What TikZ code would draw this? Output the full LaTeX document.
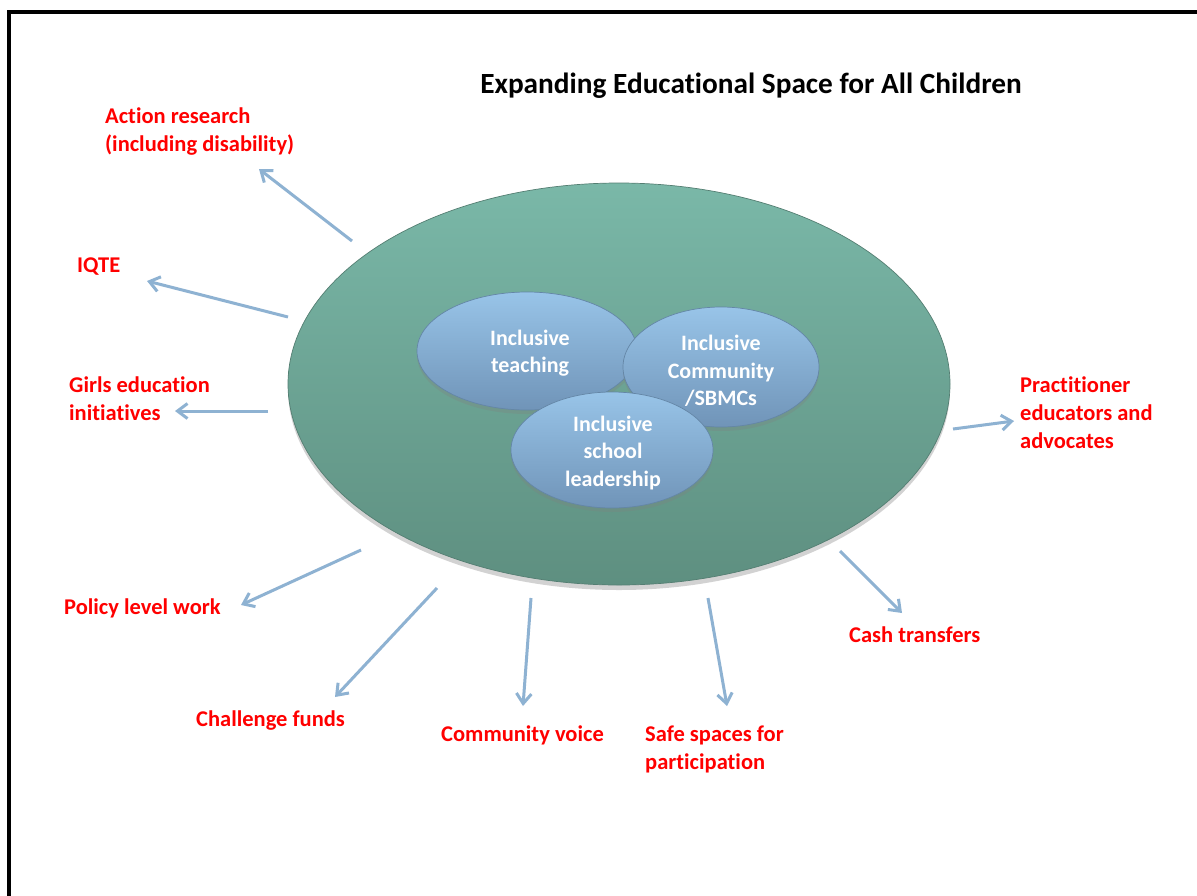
\documentclass[tikz,border=0pt]{standalone}
\usepackage{fontspec}
\setmainfont{Carlito}[Ligatures=NoCommon]
\usetikzlibrary{shapes.geometric,arrows.meta,shadows}
\definecolor{tealtop}{RGB}{122,184,168}
\definecolor{tealbot}{RGB}{94,143,128}
\definecolor{tealedge}{RGB}{84,126,114}
\definecolor{bluetop}{RGB}{152,196,232}
\definecolor{bluebot}{RGB}{112,148,184}
\definecolor{blueedge}{RGB}{100,134,166}
\definecolor{arrowblue}{RGB}{142,178,210}
\definecolor{labelred}{RGB}{255,0,0}
\tikzset{
  bigoval/.style={ellipse, draw=tealedge, line width=0.7pt, top color=tealtop, bottom color=tealbot,
    inner sep=0pt, drop shadow={opacity=0.35, shadow xshift=0pt, shadow yshift=-5pt}},
  smalloval/.style={ellipse, draw=blueedge, line width=0.7pt, top color=bluetop, bottom color=bluebot,
    inner sep=0pt, drop shadow={opacity=0.3, shadow xshift=0pt, shadow yshift=-4pt}},
  ovaltext/.style={text=white, font=\bfseries\fontsize{22}{27.5}\selectfont, align=center, inner sep=0pt},
  lbl/.style={text=labelred, font=\bfseries\fontsize{22.5}{28}\selectfont, align=left, anchor=west, inner sep=0pt},
  link/.style={draw=arrowblue, line width=3pt, -{Straight Barb[length=10pt,width=15pt]}},
}
\begin{document}
\begin{tikzpicture}[x=1pt,y=-1pt]
\useasboundingbox (0,0) rectangle (1197,895);
\fill[white] (0,0) rectangle (1197,895);
% frame
\draw[line width=4.5pt] (9,900) -- (9,12) -- (1202,12);
% title
\node[font=\bfseries\fontsize{29.3}{34}\selectfont, inner sep=0pt] (title) at (751,86) {Expanding Educational Space for All Children};
% big ellipse
\node[bigoval, minimum width=662pt, minimum height=402pt] (big) at (619,384) {};
% inner ellipses
\node[smalloval, minimum width=220pt, minimum height=118pt] (teach) at (527,351) {};
\node[smalloval, minimum width=196pt, minimum height=120pt] (comm) at (721,367) {};
\node[smalloval, minimum width=202pt, minimum height=116pt] (lead) at (612,450) {};
\node[ovaltext] (teacht) at (530,353) {Inclusive\\teaching};
\node[ovaltext] (commt) at (721,371) {Inclusive\\Community\\/SBMCs};
\node[ovaltext] (leadt) at (613,453) {Inclusive\\school\\leadership};
% labels
\node[lbl] (l1) at (105,132) {Action research\\(including disability)};
\node[lbl] (l2) at (77,267) {IQTE};
\node[lbl] (l3) at (69,399) {Girls education\\initiatives};
\node[lbl] (l4) at (64,608) {Policy level work};
\node[lbl] (l5) at (196,721) {Challenge funds};
\node[lbl] (l6) at (441,735) {Community voice};
\node[lbl] (l7) at (645,749) {Safe spaces for\\participation};
\node[lbl] (l8) at (849,635) {Cash transfers};
\node[lbl] (l9) at (1020,413) {Practitioner\\educators and\\advocates};
% arrow endpoints
\coordinate (s1) at (352,241); \coordinate (t1) at (259,169);
\coordinate (s2) at (288,317); \coordinate (t2) at (147,281);
\coordinate (s3) at (268,411); \coordinate (t3) at (175,411);
\coordinate (s4) at (361,550); \coordinate (t4) at (241,605);
\coordinate (s5) at (437,588); \coordinate (t5) at (335,697);
\coordinate (s6) at (531,598); \coordinate (t6) at (523,706);
\coordinate (s7) at (708,598); \coordinate (t7) at (727,706);
\coordinate (s8) at (840,551); \coordinate (t8) at (902,613);
\coordinate (s9) at (953,429); \coordinate (t9) at (1014,421);
\foreach \i in {1,...,9} { \draw[link] (s\i) -- (t\i); }
\end{tikzpicture}
\end{document}
